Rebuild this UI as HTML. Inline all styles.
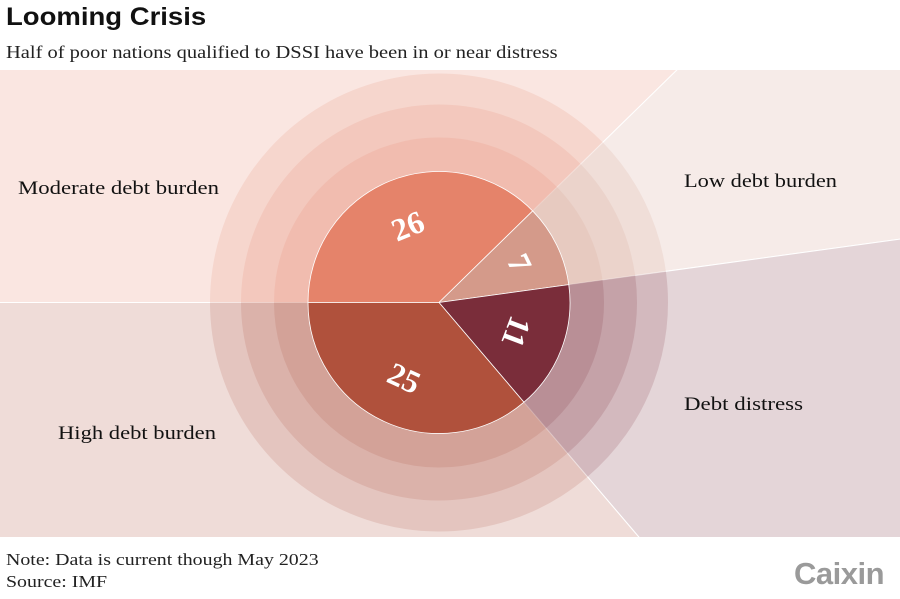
<!DOCTYPE html>
<html style="overflow:hidden;width:900px;height:599px"><head><meta charset="utf-8"><style>
html,body{margin:0;padding:0;overflow:hidden}
body{background:#fff;width:900px;height:599px;position:relative;font-family:"Liberation Serif",serif}
.t{position:absolute;white-space:nowrap;transform-origin:0 0}
</style></head><body>
<div class="t" style="left:6px;top:2px;font:bold 25px/30px 'Liberation Sans',sans-serif;color:#111;transform:scaleX(1.1)">Looming Crisis</div>
<div class="t" style="left:6px;top:41px;font-size:17.5px;line-height:22px;color:#222;transform:scaleX(1.17)">Half of poor nations qualified to DSSI have been in or near distress</div>
<svg id="c" style="position:absolute;left:0;top:70px;overflow:hidden" width="900" height="467"></svg>
<div class="t" style="left:6px;top:549px;font-size:17px;color:#222;line-height:22px;transform:scaleX(1.17)">Note: Data is current though May 2023<br>Source: IMF</div>
<div class="t" style="left:794px;top:557px;font:bold 31px/34px 'Liberation Sans',sans-serif;color:#9a9a9a;letter-spacing:-0.5px">Caixin</div>
<script>
const categories=["Moderate debt burden","Low debt burden","Debt distress","High debt burden"];
const values=[26,7,11,25];
const colors=["#e5836a","#d49a8a","#7a2d3a","#b0513c"];
const labelPos=[[18,118],[684,111],[684,334],[58,363]];
const labelWidths=[201,153,119,158];
const svg=document.getElementById('c');
const NS="http://www.w3.org/2000/svg";
const cx=439,cy=232.5;
const total=values.reduce((a,b)=>a+b,0);
const startB=270;
function pt(b,r){const a=(b-90)*Math.PI/180;return [cx+r*Math.cos(a),cy+r*Math.sin(a)];}
function wedge(b0,b1,r){const p0=pt(b0,r),p1=pt(b1,r);const large=(b1-b0)>180?1:0;
return `M${cx},${cy}L${p0[0]},${p0[1]}A${r},${r} 0 ${large} 1 ${p1[0]},${p1[1]}Z`;}
function add(tag,attrs){const e=document.createElementNS(NS,tag);for(const k in attrs)e.setAttribute(k,attrs[k]);svg.appendChild(e);return e;}
let angles=[];let acc=startB;
values.forEach(v=>{const b0=acc;const b1=acc+v/total*360;angles.push([b0,b1]);acc=b1;});
angles.forEach((a,i)=>{
  const e=add('path',{d:wedge(a[0],a[1],1200),fill:colors[i],'fill-opacity':0.2,stroke:'#fff','stroke-width':1});
  
  
});
[229,198,165].forEach((r,ri)=>{
  angles.forEach((a,i)=>{
    const e=add('path',{d:wedge(a[0],a[1],r),fill:colors[i],'fill-opacity':0.16,stroke:'none'});
    
    
  });
});
angles.forEach((a,i)=>{
  const e=add('path',{d:wedge(a[0],a[1],131),fill:colors[i],stroke:'#fff','stroke-width':0.8});
  
  
  const mid=(a[0]+a[1])/2;const p=pt(mid,(a[1]-a[0])<45?90:83);
  let rot=mid%360;if(rot>135&&rot<270)rot-=180;
  const t=add('text',{x:p[0],y:p[1],'text-anchor':'middle','dominant-baseline':'central',fill:'#fff','font-size':32,'font-weight':'bold','font-family':'Liberation Serif, serif',transform:`rotate(${rot} ${p[0]} ${p[1]})`});
  t.textContent=values[i];
  
  
});
categories.forEach((c,i)=>{
  const t=add('text',{x:labelPos[i][0],y:labelPos[i][1]+6,fill:'#111','font-size':18.5,'font-family':'Liberation Serif, serif',textLength:labelWidths[i],lengthAdjust:'spacingAndGlyphs'});
  t.textContent=c;
  
  
});
</script>
</body></html>
